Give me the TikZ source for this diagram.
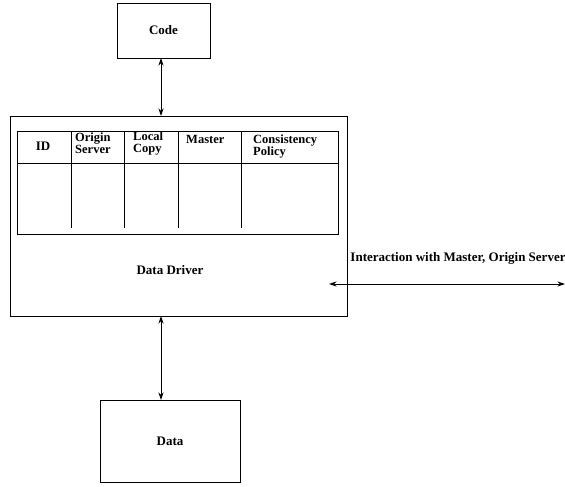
\documentclass[tikz,border=0pt]{standalone}
\usepackage{fontspec}
\setmainfont{Liberation Serif}
\usetikzlibrary{arrows.meta}
\begin{document}
\begin{tikzpicture}[x=1pt,y=-1pt,
  box/.style={draw, line width=0.9pt, inner sep=0pt},
  lbl/.style={font=\bfseries\fontsize{13}{13}\selectfont},
  hdr/.style={font=\bfseries\fontsize{12.5}{12}\selectfont, align=left, anchor=north west, inner sep=0pt},
  link/.style={line width=0.9pt, {Stealth[length=7.5pt,width=5pt]}-{Stealth[length=7.5pt,width=5pt]}},
  rule/.style={line width=0.9pt}]
\useasboundingbox (0,0) rectangle (565,487);

% blocks
\node[box, minimum width=93pt, minimum height=55pt, lbl] (code) at (163.5,30.5) {Code};
\node[box, minimum width=337pt, minimum height=200pt] (driver) at (178.5,216) {};
\node[box, minimum width=140pt, minimum height=82pt, lbl] (data) at (170,441) {Data};
\node[lbl] (dlabel) at (170,270) {Data Driver};

% table inside the driver
\draw[rule] (17,131) rectangle (338,234);
\draw[rule] (17,163) -- (338,163);
\foreach \x in {71,124,178,241} \draw[rule] (\x,131) -- (\x,228);
\node[lbl] (hid) at (43,146) {ID};
\node[hdr] (horig) at (75,133) {Origin\\Server};
\node[hdr] (hloc) at (133,132) {Local\\Copy};
\node[hdr] (hmas) at (186,135) {Master};
\node[hdr] (hcons) at (253,135) {Consistency\\Policy};

% connectors
\coordinate (cTop) at (161,116);
\coordinate (cBot) at (161,316);
\coordinate (dTop) at (161,400);
\coordinate (cDown) at (161,58);
\draw[link] (cDown) -- (cTop);
\draw[link] (cBot) -- (dTop);
\coordinate (iL) at (329,284);
\coordinate (iR) at (565,284);
\draw[link] (iL) -- (iR);
\node[lbl, anchor=south] (ilabel) at (458,268) {Interaction with Master, Origin Server};
\end{tikzpicture}
\end{document}
